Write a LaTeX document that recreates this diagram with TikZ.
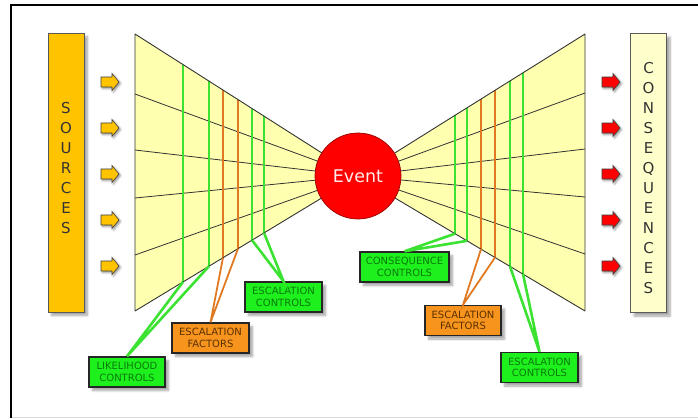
\documentclass[tikz,border=0pt]{standalone}
\usepackage{fontspec}
\setmainfont{DejaVu Sans}
\usetikzlibrary{calc,shadows.blur}
\definecolor{funnel}{HTML}{FFFFB0}
\definecolor{srcfill}{HTML}{FFC300}
\definecolor{cnsfill}{HTML}{FFFFCC}
\definecolor{gbar}{HTML}{3CE232}
\definecolor{obar}{HTML}{E07A22}
\definecolor{gbox}{HTML}{1EF01E}
\definecolor{obox}{HTML}{F7941E}
\definecolor{gtext}{HTML}{0A7A0A}
\definecolor{otext}{HTML}{5A3000}
\definecolor{evred}{HTML}{FF0000}
\tikzset{
  shadowed/.style={blur shadow={shadow xshift=3.5pt,shadow yshift=-3.5pt,shadow opacity=35,shadow blur steps=6}},
  smallshadow/.style={blur shadow={shadow xshift=1.5pt,shadow yshift=-1.5pt,shadow opacity=45,shadow blur steps=3}},
  labelbox/.style={draw=black!85,line width=1.4pt,shadowed,minimum height=30pt,inner sep=1pt,align=center,
    font=\fontsize{10}{11.5}\selectfont},
  greenbox/.style={labelbox,fill=gbox,text=gtext},
  orangebox/.style={labelbox,fill=obox,text=otext},
  gline/.style={gbar,line width=2.6pt},
  oline/.style={obar,line width=1.8pt},
  ray/.style={black!80,line width=0.8pt},
  arrowbody/.style={draw=black!75,line width=0.6pt,line join=miter,smallshadow},
  pics/blockarr/.style={code={
    \path[arrowbody,fill=#1] (-9,-5) -- (2,-5) -- (2,-8.5) -- (9,0) -- (2,8.5) -- (2,5) -- (-9,5) -- cycle;
  }},
  sidebox/.style={draw=black!65,line width=1pt,minimum width=36pt,minimum height=279pt,inner sep=0pt,shadowed},
  sideletters/.style={align=center,text=black!80,font=\fontsize{15}{20}\selectfont},
}
\begin{document}
\begin{tikzpicture}[x=1pt,y=-1pt]
\useasboundingbox (0,0) rectangle (698,418);
% frame
\draw[black!15,line width=0.8pt] (11,417.3) -- (698,417.3);
\draw[black,line width=2.2pt] (11,418) -- (11,5) -- (698,5);

% key points
\coordinate (C) at (358,176);
\coordinate (LT) at (135,34);
\coordinate (LB) at (135,311);
\coordinate (RT) at (585,34);
\coordinate (RB) at (585,311);

% side boxes
\node[sidebox,fill=srcfill] (src) at (66,172.5) {};
\node[sideletters] (srctext) at (66,168) {S\\O\\U\\R\\C\\E\\S};
\node[sidebox,fill=cnsfill] (cns) at (648.5,173) {};
\node[sideletters] (cnstext) at (648.5,178) {C\\O\\N\\S\\E\\Q\\U\\E\\N\\C\\E\\S};

% arrows
\foreach \i/\yy in {1/82,2/128,3/174,4/220,5/266}{
  \pic (la\i) at (110,\yy) {blockarr=srcfill};
  \pic (ra\i) at (611,\yy) {blockarr=evred};
}

% funnels
\fill[funnel] (LT) -- (C) -- (LB) -- cycle;
\fill[funnel] (RT) -- (C) -- (RB) -- cycle;
\foreach \yy in {94,150,198,255}{
  \draw[ray] (135,\yy) -- (C);
  \draw[ray] (585,\yy-1) -- (C);
}

% bars
\foreach \n/\t in {1/0.2152,2/0.3318,3/0.3946,4/0.4619,5/0.5247,6/0.5785}{
  \coordinate (lt\n) at ($(LT)!\t!(C)$);
  \coordinate (lb\n) at ($(LB)!\t!(C)$);
}
\foreach \n/\t in {1/0.5727,2/0.5198,3/0.4581,4/0.3965,5/0.3304,6/0.2731}{
  \coordinate (rt\n) at ($(RT)!\t!(C)$);
  \coordinate (rb\n) at ($(RB)!\t!(C)$);
}
\foreach \n in {1,2,5,6}{
  \draw[gline] (lt\n) -- (lb\n);
  \draw[gline] (rt\n) -- (rb\n);
}
\foreach \n in {3,4}{
  \draw[oline] (lt\n) -- (lb\n);
  \draw[oline] (rt\n) -- (rb\n);
}
\draw[black!80,line width=0.9pt,line join=round] (LT) -- (C) -- (LB) -- cycle;
\draw[black!80,line width=0.9pt,line join=round] (RT) -- (C) -- (RB) -- cycle;

% event
\node[circle,draw=evred!60!black,line width=0.7pt,fill=evred,minimum size=86pt,inner sep=0pt,
  text=red!8,font=\fontsize{17.5}{20}\selectfont] (ev) at (C) {Event};

% label boxes
\node[greenbox,minimum width=76pt] (lik) at (127,372) {LIKELIHOOD\\CONTROLS};
\node[orangebox,minimum width=77pt] (lef) at (210.5,338) {ESCALATION\\FACTORS};
\node[greenbox,minimum width=77pt] (lec) at (283.5,297) {ESCALATION\\CONTROLS};
\node[greenbox,minimum width=89pt] (cc) at (404.5,267) {CONSEQUENCE\\CONTROLS};
\node[orangebox,minimum width=76pt] (ref) at (463,320.5) {ESCALATION\\FACTORS};
\node[greenbox,minimum width=77pt] (rec) at (539.5,367.5) {ESCALATION\\CONTROLS};

% connectors
\draw[gline] (lb1) -- (lik.north) -- (lb2);
\draw[oline] (lb3) -- (lef.north) -- (lb4);
\draw[gline] (lb5) -- (lec.north) -- (lb6);
\draw[gline] (rb1) -- (cc.north) -- (rb2);
\draw[oline] (rb3) -- (ref.north) -- (rb4);
\draw[gline] (rb5) -- (rec.north) -- (rb6);
\end{tikzpicture}
\end{document}
